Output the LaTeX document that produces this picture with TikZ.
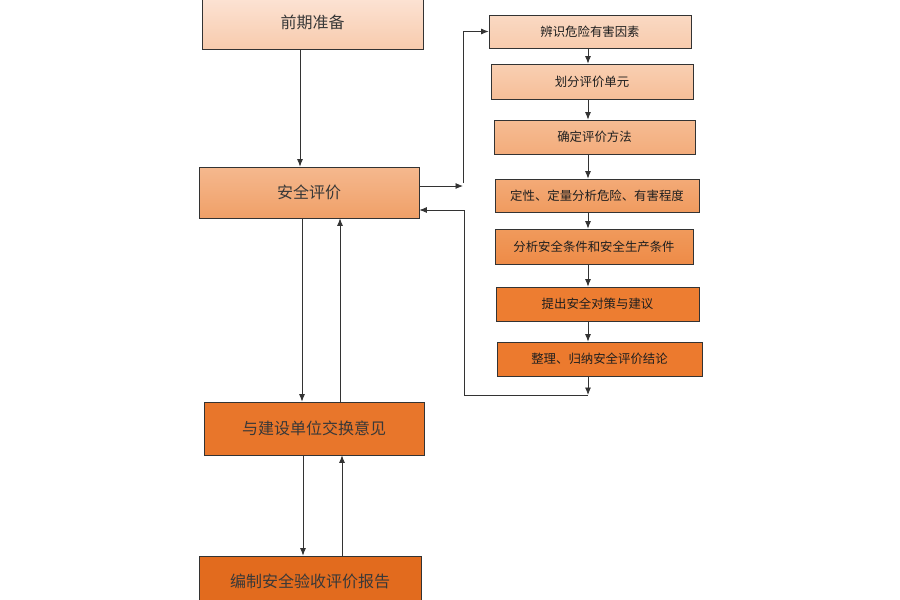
\documentclass[tikz,border=0pt]{standalone}
\usepackage{fontspec}
\setmainfont{Noto Sans CJK SC}
\usetikzlibrary{arrows.meta}
\definecolor{cA1}{HTML}{FCE4D6}\definecolor{cA2}{HTML}{F8CBAD}
\definecolor{cB1}{HTML}{F5B88E}\definecolor{cB2}{HTML}{F0A068}
\definecolor{cC}{HTML}{E8762B}
\definecolor{cD}{HTML}{E26B1E}
\definecolor{r1c}{HTML}{FAD9C3}\definecolor{r1d}{HTML}{F8CBAD}
\definecolor{r2c}{HTML}{F9CFB2}\definecolor{r2d}{HTML}{F6BE98}
\definecolor{r3c}{HTML}{F6BC93}\definecolor{r3d}{HTML}{F3AC7B}
\definecolor{r4c}{HTML}{F3AA77}\definecolor{r4d}{HTML}{F09B5F}
\definecolor{r5c}{HTML}{F09A5C}\definecolor{r5d}{HTML}{EE8B47}
\definecolor{r6}{HTML}{ED7D31}
\definecolor{r7}{HTML}{EC7A2E}
\begin{document}
\begin{tikzpicture}[x=1pt,y=-1pt,
  box/.style={draw=black!80, line width=0.8pt, inner sep=0pt, align=center},
  big/.style={box, font=\fontsize{16}{18}\selectfont, text=black!78},
  small/.style={box, font=\fontsize{12.4}{15}\selectfont, text=black!88},
  arr/.style={draw=black!80, line width=0.8pt, -{Latex[length=7.5pt,width=6pt]}},
  ln/.style={draw=black!80, line width=0.8pt}]
\useasboundingbox (0,0) rectangle (900,600);
% left column
\node[big, top color=cA1, bottom color=cA2, minimum width=221pt, minimum height=54pt] (pre) at (312.5,22) {前期准备};
\node[big, top color=cB1, bottom color=cB2, minimum width=220pt, minimum height=51pt] (aq) at (309,192.5) {安全评价};
\node[big, fill=cC, minimum width=220pt, minimum height=53pt] (ex) at (314,428.5) {与建设单位交换意见};
\node[big, fill=cD, minimum width=222pt, minimum height=50pt] (rp) at (310,581) {编制安全验收评价报告};
% right column
\node[small, top color=r1c, bottom color=r1d, minimum width=202pt, minimum height=33pt] (r1) at (590,31.5) {辨识危险有害因素};
\node[small, top color=r2c, bottom color=r2d, minimum width=202pt, minimum height=35pt] (r2) at (592,81.5) {划分评价单元};
\node[small, top color=r3c, bottom color=r3d, minimum width=201pt, minimum height=34pt] (r3) at (594.5,137) {确定评价方法};
\node[small, top color=r4c, bottom color=r4d, minimum width=204pt, minimum height=33pt] (r4) at (597,195.5) {定性、定量分析危险、有害程度};
\node[small, top color=r5c, bottom color=r5d, minimum width=198pt, minimum height=35pt] (r5) at (594,246.5) {分析安全条件和安全生产条件};
\node[small, fill=r6, minimum width=203pt, minimum height=34pt] (r6) at (597.5,304) {提出安全对策与建议};
\node[small, fill=r7, minimum width=205pt, minimum height=34pt] (r7) at (599.5,359) {整理、归纳安全评价结论};
% column coordinates
\coordinate (xa) at (300,0);
\coordinate (xb) at (302,0);
\coordinate (xc) at (340,0);
\coordinate (xd) at (303,0);
\coordinate (xe) at (342,0);
\coordinate (xr) at (588,0);
% left connectors
\draw[arr] (pre.south -| xa) -- (aq.north -| xa);
\draw[arr] (aq.south -| xb) -- (ex.north -| xb);
\draw[arr] (ex.north -| xc) -- (aq.south -| xc);
\draw[arr] (ex.south -| xd) -- (rp.north -| xd);
\draw[arr] (rp.north -| xe) -- (ex.south -| xe);
% right chain
\draw[arr] (r1.south -| xr) -- (r2.north -| xr);
\draw[arr] (r2.south -| xr) -- (r3.north -| xr);
\draw[arr] (r3.south -| xr) -- (r4.north -| xr);
\draw[arr] (r4.south -| xr) -- (r5.north -| xr);
\draw[arr] (r5.south -| xr) -- (r6.north -| xr);
\draw[arr] (r6.south -| xr) -- (r7.north -| xr);
% loop out
\coordinate (p1) at (463,186);
\coordinate (p2) at (463,183);
\draw[arr] (aq.east |- p1) -- (p1);
\draw[arr] (p2) |- (r1.west);
% loop back
\coordinate (p3) at (588,395);
\coordinate (p4) at (464,210);
\draw[arr] (r7.south -| xr) -- (p3);
\draw[arr] (p3) -| (p4) -- (aq.east |- p4);
\end{tikzpicture}
\end{document}
